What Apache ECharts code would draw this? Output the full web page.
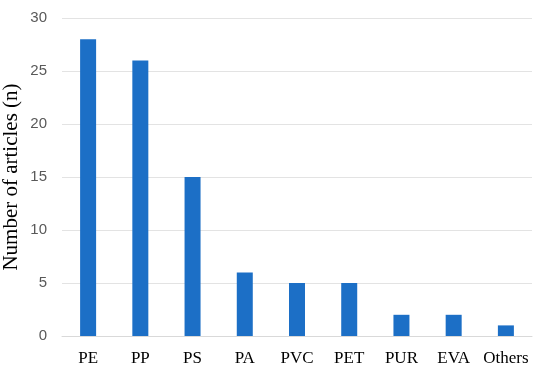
<!DOCTYPE html>
<html><head><meta charset="utf-8">
<script src="https://cdn.jsdelivr.net/npm/echarts@6/dist/echarts.min.js"></script>
<style>html,body{margin:0;padding:0;background:#fff}#c{width:550px;height:375px}</style>
</head><body><div id="c"></div>
<script>
const categories = ["PE","PP","PS","PA","PVC","PET","PUR","EVA","Others"];
const values = [28,26,15,6,5,5,2,2,1];
const yTicks = {min:0,max:30,interval:5};
const yTitle = "Number of articles (n)";

const chart = echarts.init(document.getElementById('c'));
chart.setOption({
  animation:false,
  grid:{left:62,right:18,top:18,bottom:39,containLabel:false,outerBoundsMode:'none'},
  xAxis:{type:'category',data:categories,
    axisLine:{show:true,lineStyle:{color:'#d9d9d9'}},axisTick:{show:false},
    axisLabel:{interval:0,color:'#000',fontFamily:'Liberation Serif',fontSize:17,margin:14}},
  yAxis:{type:'value',min:yTicks.min,max:yTicks.max,interval:yTicks.interval,
    name:yTitle,nameLocation:'middle',nameGap:40,nameMoveOverlap:false,
    nameTextStyle:{color:'#000',fontFamily:'Liberation Serif',fontSize:21},
    axisLine:{show:false},axisTick:{show:false},
    splitLine:{lineStyle:{color:'#e3e3e3'}},
    axisLabel:{color:'#595959',fontFamily:'Liberation Sans',fontSize:15,margin:15}},
  series:[{type:'bar',data:values,barWidth:16,itemStyle:{color:'#1c6fc6'}}]
});
</script></body></html>
